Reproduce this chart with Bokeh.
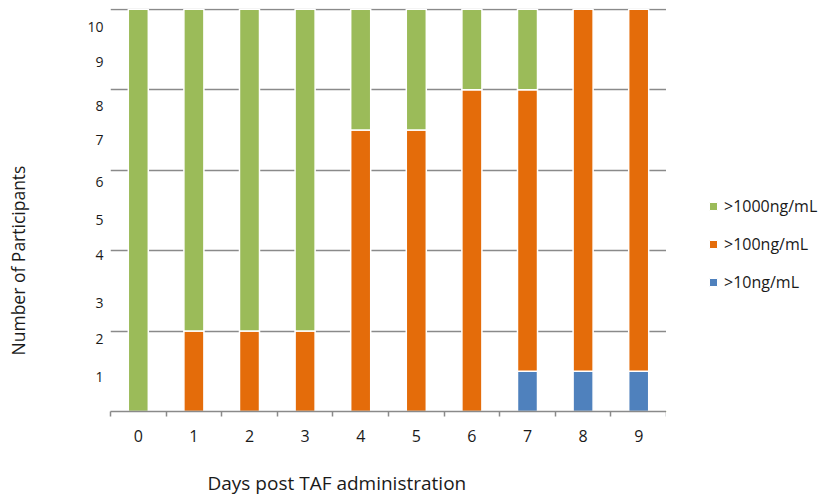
import math
from bokeh.plotting import figure
from bokeh.layouts import row, column
from bokeh.models import Range1d, FixedTicker, Legend, LegendItem, Label
from bokeh.embed import file_html
from bokeh.resources import INLINE

# ---- data ----
days = [0, 1, 2, 3, 4, 5, 6, 7, 8, 9]
day_labels = ["0", "1", "2", "3", "4", "5", "6", "7", "8", "9"]
gt10 = [0, 0, 0, 0, 0, 0, 0, 1, 1, 1]
gt100 = [0, 2, 2, 2, 7, 7, 8, 7, 9, 9]
gt1000 = [10, 8, 8, 8, 3, 3, 2, 2, 0, 0]
series_names = [">10ng/mL", ">100ng/mL", ">1000ng/mL"]
series_keys = ["gt10", "gt100", "gt1000"]
colors = ["#4F81BD", "#E46C0A", "#9BBB59"]
y_tick_pos = [0.85, 1.8, 2.7, 3.9, 4.75, 5.7, 6.75, 7.6, 8.7, 9.55]
y_tick_labels = ["1", "2", "3", "4", "5", "6", "7", "8", "9", "10"]
grid_vals = [2, 4, 6, 8, 10]
x_title = "Days post TAF administration"
y_title = "Number of Participants"

FONT = "Open Sans"
TXT = "#1a1a1a"
GRID = "#8a8a8a"
H = 450


def blank(width, height):
    f = figure(width=width, height=height, output_backend="svg", toolbar_location=None,
               x_range=Range1d(100, 101), y_range=Range1d(100, 101),
               x_axis_type=None, y_axis_type=None,
               min_border_left=0, min_border_right=0, min_border_top=0, min_border_bottom=0)
    f.outline_line_color = None
    f.xgrid.visible = False
    f.ygrid.visible = False
    return f


# ---- main chart ----
p = figure(width=626, height=H, output_backend="svg", toolbar_location=None,
           x_range=Range1d(-0.5, 9.5), y_range=Range1d(0, 10.02),
           min_border_left=70, min_border_right=0, min_border_top=8,
           min_border_bottom=H - 411)
p.outline_line_color = None
p.background_fill_color = "white"

src = dict(days=days, gt10=gt10, gt100=gt100, gt1000=gt1000)
rs = p.vbar_stack(series_keys, x="days", width=0.36, color=colors,
                  line_color="white", line_width=1.5, source=src)

xa = p.xaxis[0]
xa.ticker = FixedTicker(ticks=days, minor_ticks=[d - 0.5 for d in days] + [days[-1] + 0.5])
xa.major_label_overrides = {d: l for d, l in zip(days, day_labels)}
xa.major_tick_out = 0
xa.major_tick_in = 0
xa.minor_tick_out = 5
xa.minor_tick_in = 0
xa.minor_tick_line_color = GRID
xa.minor_tick_line_width = 1.5
xa.axis_line_color = GRID
xa.axis_line_width = 1.5
xa.major_label_standoff = 13
xa.major_label_text_font = FONT
xa.major_label_text_font_size = "16px"
xa.major_label_text_color = TXT

ya = p.yaxis[0]
ya.ticker = FixedTicker(ticks=y_tick_pos, minor_ticks=[])
ya.major_label_overrides = {t: l for t, l in zip(y_tick_pos, y_tick_labels)}
ya.major_tick_out = 0
ya.major_tick_in = 0
ya.minor_tick_out = 0
ya.axis_line_color = None
ya.major_label_standoff = 7
ya.major_label_text_font = FONT
ya.major_label_text_font_size = "14px"
ya.major_label_text_color = TXT

p.xgrid.grid_line_color = None
p.ygrid.ticker = FixedTicker(ticks=grid_vals)
p.ygrid.grid_line_color = GRID
p.ygrid.grid_line_width = 1.5

# ---- y axis title panel ----
r = blank(40, H)
r.add_layout(Label(x=17, y=151, x_units="screen", y_units="screen", text=y_title,
                   angle=math.pi / 2, text_align="center", text_baseline="middle",
                   text_font=FONT, text_font_size="17.5px", text_color=TXT))

# ---- legend panel ----
q = blank(160, H)
rq = q.vbar_stack(series_keys, x="days", width=0.36, color=colors,
                  line_color="white", line_width=1, source=src)
items = [LegendItem(label=series_names[i], renderers=[rq[i]]) for i in [2, 1, 0]]
leg = Legend(items=items, location=(42, 118), orientation="vertical",
             glyph_width=10, glyph_height=10, label_height=20, spacing=16,
             label_standoff=6, padding=0, margin=0,
             border_line_color=None, background_fill_alpha=0,
             label_text_font=FONT, label_text_font_size="16px",
             label_text_color=TXT)
q.add_layout(leg, "center")

# ---- x axis title panel ----
b = blank(826, 46)
b.add_layout(Label(x=207, y=14, x_units="screen", y_units="screen", text=x_title,
                   text_align="left", text_baseline="middle",
                   text_font=FONT, text_font_size="19px", text_color=TXT))

layout = column(row(r, p, q, spacing=0), b, spacing=0)
open("out.html", "w").write(file_html(layout, INLINE))
